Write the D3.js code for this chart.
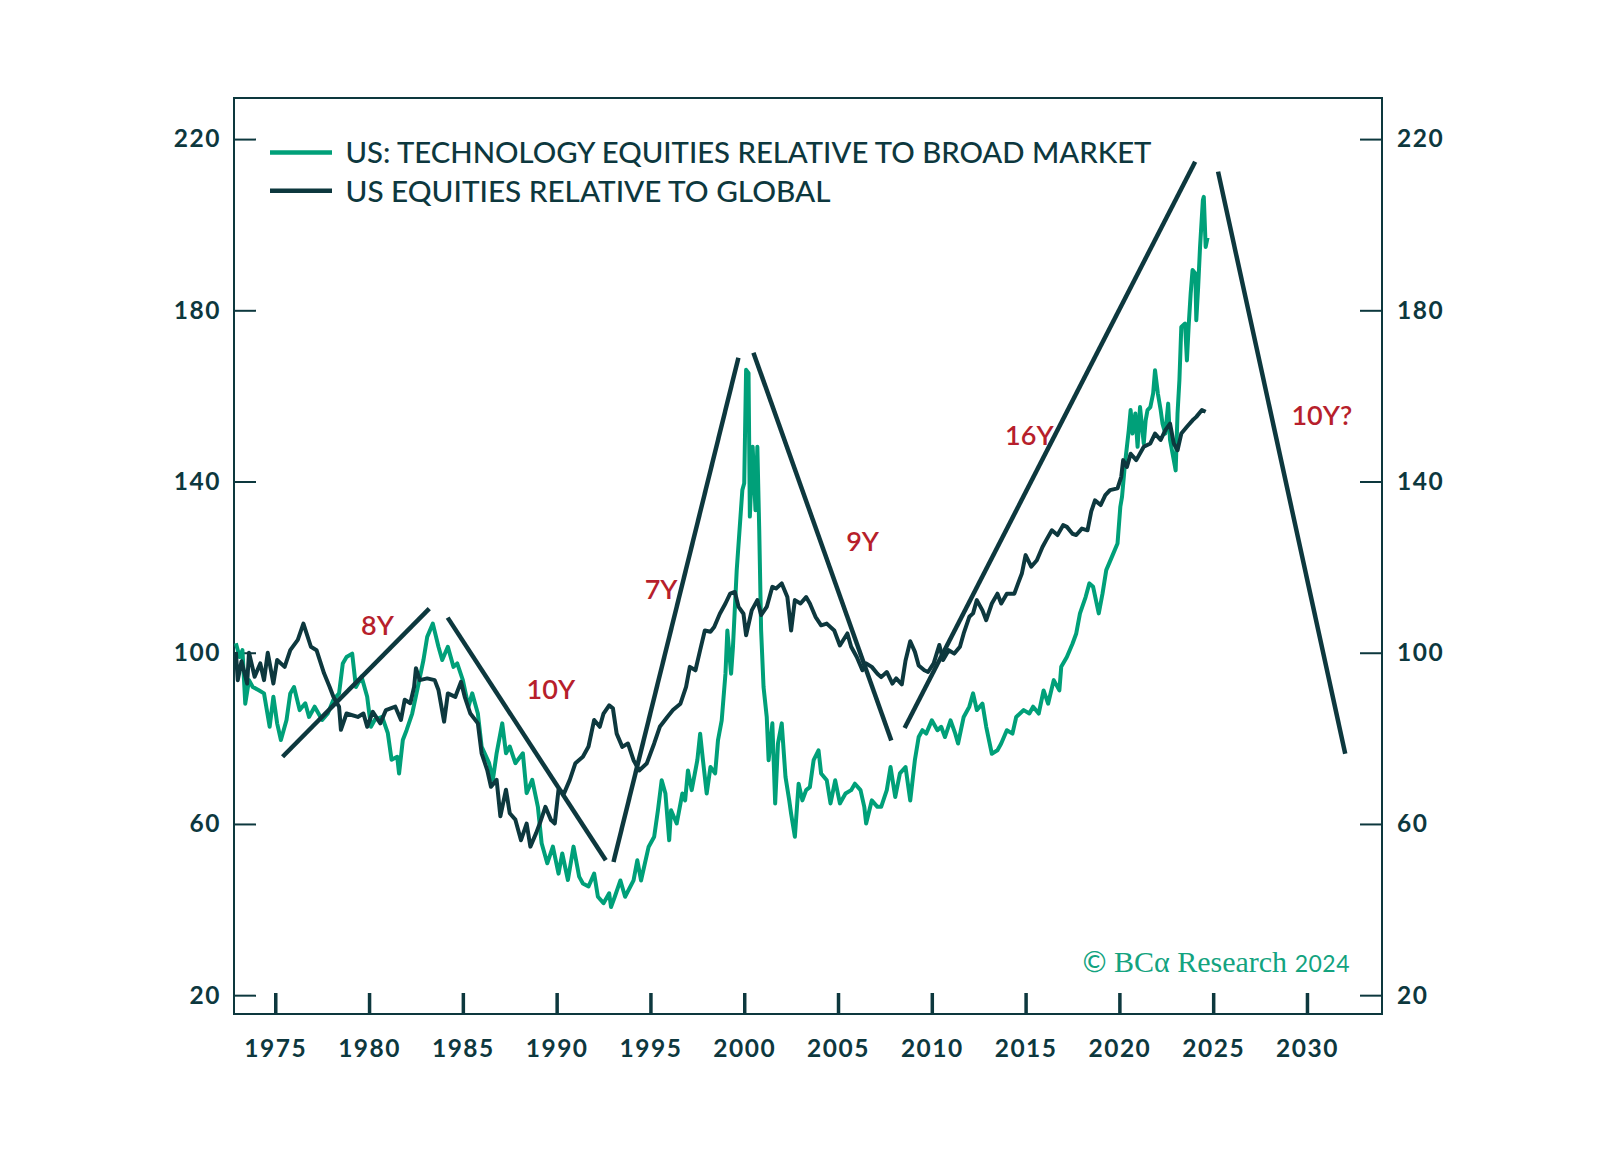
<!DOCTYPE html>
<html><head><meta charset="utf-8">
<script src="https://cdn.jsdelivr.net/npm/d3@7"></script>
<style>body{margin:0;background:#fff}svg{display:block}</style>
</head><body>
<svg id="chart" width="1617" height="1160"></svg>
<script>
// ---------- DATA ----------
const techYears = [1972.9,1973.1,1973.25,1973.4,1973.6,1973.8,1974.1,1974.4,1974.7,1974.9,1975.1,1975.3,1975.6,1975.8,1976.0,1976.3,1976.6,1976.8,1977.1,1977.5,1977.8,1978.1,1978.4,1978.6,1978.8,1979.1,1979.3,1979.6,1979.9,1980.1,1980.3,1980.7,1981.0,1981.2,1981.5,1981.6,1981.8,1982.0,1982.3,1982.6,1982.9,1983.1,1983.4,1983.7,1983.9,1984.2,1984.5,1984.7,1985.0,1985.3,1985.5,1985.8,1986.0,1986.4,1986.6,1986.8,1987.1,1987.3,1987.5,1987.8,1988.2,1988.4,1988.7,1989.0,1989.2,1989.5,1989.8,1990.1,1990.3,1990.6,1990.9,1991.2,1991.4,1991.7,1992.0,1992.2,1992.5,1992.8,1992.9,1993.1,1993.4,1993.65,1994.1,1994.3,1994.5,1994.9,1995.2,1995.4,1995.6,1995.8,1996.0,1996.1,1996.4,1996.7,1996.85,1997.0,1997.2,1997.5,1997.65,1997.8,1998.0,1998.2,1998.45,1998.6,1998.8,1999.0,1999.1,1999.3,1999.4,1999.6,1999.9,2000.0,2000.1,2000.23,2000.3,2000.45,2000.6,2000.7,2000.8,2000.9,2001.03,2001.2,2001.3,2001.5,2001.65,2001.8,2002.0,2002.2,2002.4,2002.5,2002.7,2002.9,2003.1,2003.3,2003.5,2003.7,2003.96,2004.1,2004.4,2004.6,2004.85,2005.1,2005.4,2005.7,2005.9,2006.2,2006.4,2006.5,2006.8,2007.1,2007.3,2007.6,2007.8,2008.05,2008.3,2008.6,2008.85,2009.1,2009.3,2009.5,2009.7,2010.0,2010.3,2010.5,2010.7,2011.0,2011.25,2011.4,2011.7,2012.0,2012.2,2012.4,2012.7,2012.9,2013.2,2013.5,2013.7,2014.0,2014.3,2014.5,2014.9,2015.2,2015.4,2015.7,2015.96,2016.2,2016.5,2016.8,2016.9,2017.2,2017.5,2017.7,2017.9,2018.2,2018.4,2018.6,2018.9,2019.1,2019.3,2019.6,2019.9,2020.05,2020.14,2020.3,2020.5,2020.6,2020.7,2020.85,2020.97,2021.1,2021.3,2021.4,2021.5,2021.65,2021.8,2021.9,2022.05,2022.2,2022.3,2022.45,2022.6,2022.7,2022.9,2023.0,2023.1,2023.2,2023.3,2023.5,2023.6,2023.7,2023.8,2023.9,2024.05,2024.1,2024.2,2024.3,2024.45,2024.5,2024.6,2024.7];
const techValues = [102.2,99,100.6,88.1,93.6,92,91.3,90.5,82.7,89.7,83.5,79.6,84.3,90.5,92,86.6,88.2,85,87.4,84.3,85.8,89,90.5,97.5,99,99.8,92,94.4,89.7,82.7,84.3,85,81.2,75,75.7,71.8,79.6,81.9,85.8,92,98.3,103.7,106.8,101.4,98.3,101.4,96.7,97.5,93.6,87.4,90.5,85.8,78.1,74.2,70.3,76.5,83.5,76.5,78.1,74.2,76.5,67.2,70.3,64,55.5,50.8,54.7,48.4,53.1,46.9,54.7,47.7,46.1,45.4,48.4,43,41.5,43.8,40.6,43,46.8,43,46.8,51.5,46.8,54.6,57,63.2,70.2,67.1,56.2,63.2,60.1,67.1,65.5,72.5,67.9,74.9,81.1,74.9,67.1,73.3,71.8,79.5,84.2,95.1,105.2,95.1,101.4,119.3,138,139.6,166.1,165.3,131.8,148.1,133.3,148.1,128.7,105.3,92,85,74.9,83.5,64.8,78.8,83.5,71,65.5,62.4,57,69.4,65.5,67.9,68.6,74.9,77.2,71.8,70.2,64.8,70.2,64.8,67.1,67.9,69.4,67.9,64,60.1,65.5,64,64,67.9,73.3,66.3,71.8,73.3,65.5,75,80.3,81.9,81.1,84.2,81.9,82.7,80.3,84.2,81.1,78.8,85,87.4,90.5,86.6,88.1,82.7,76.4,77.2,78.8,81.9,81.1,85,86.6,85.8,87.4,85.8,91.2,88.1,93.6,91.2,96.7,99,102.1,104.5,109.2,113,116.2,115.4,109.2,113.8,119.3,122.4,125.5,134.1,136.4,144.2,152,156.7,151.2,155.9,148.1,157.4,148.9,154.3,156.7,157.4,160.6,166,160.6,156.7,153.5,151.2,158.2,149.7,145,142.6,155.9,163.7,176.1,176.9,168.3,176.9,183.9,189.4,188.6,177.7,185.5,194.8,205.7,206.5,194.8,197];

const usYears = [1972.9,1973.0,1973.2,1973.5,1973.6,1973.9,1974.2,1974.4,1974.6,1974.9,1975.1,1975.5,1975.8,1976.2,1976.5,1976.9,1977.2,1977.6,1977.9,1978.1,1978.4,1978.5,1978.8,1979.4,1979.7,1979.9,1980.2,1980.6,1980.9,1981.4,1981.7,1981.9,1982.2,1982.4,1982.5,1982.7,1983.1,1983.5,1983.7,1984.0,1984.2,1984.6,1984.9,1985.1,1985.4,1985.8,1986.0,1986.3,1986.5,1986.8,1987.0,1987.3,1987.5,1987.8,1988.1,1988.4,1988.6,1988.9,1989.1,1989.4,1989.7,1989.9,1990.1,1990.4,1990.7,1991.0,1991.4,1991.7,1992.0,1992.3,1992.5,1992.8,1993.0,1993.2,1993.5,1993.8,1994.1,1994.4,1994.8,1995.2,1995.5,1995.9,1996.2,1996.6,1996.9,1997.1,1997.4,1997.65,1997.9,1998.2,1998.4,1998.7,1999.0,1999.25,1999.5,1999.7,1999.96,2000.1,2000.4,2000.7,2000.9,2001.2,2001.5,2001.7,2002.0,2002.3,2002.5,2002.7,2003.0,2003.3,2003.5,2003.8,2004.1,2004.4,2004.8,2005.1,2005.5,2005.7,2006.0,2006.3,2006.5,2006.8,2007.1,2007.3,2007.6,2007.9,2008.1,2008.4,2008.6,2008.85,2009.1,2009.3,2009.6,2009.8,2010.1,2010.4,2010.6,2010.9,2011.2,2011.5,2011.7,2012.0,2012.2,2012.4,2012.7,2012.9,2013.2,2013.5,2013.7,2014.0,2014.4,2014.6,2014.8,2015.0,2015.3,2015.6,2015.9,2016.1,2016.4,2016.7,2017.0,2017.2,2017.5,2017.7,2018.0,2018.3,2018.5,2018.7,2019.0,2019.25,2019.5,2019.9,2020.1,2020.2,2020.4,2020.6,2020.9,2021.3,2021.65,2021.9,2022.2,2022.45,2022.7,2022.9,2023.1,2023.3,2023.6,2023.9,2024.1,2024.4,2024.6];
const usValues = [100.2,93.6,98,92.8,100,94.4,97.5,93.6,100,92.8,98.3,96.7,100.6,103,106.8,101.4,100.6,95.2,92,89.7,87.4,82,85.8,85,85.8,82.7,86.2,83.5,86.6,87.4,84.3,89,88.2,92,96.4,93.6,94,93.6,91.3,83.9,90.5,89.7,93.2,89.7,85.8,83.5,76.5,72.6,68.7,70.3,61.8,68,62.5,61,56.2,60.1,54.7,57.8,60.1,64,60.9,60.1,68,67.2,70.3,74.2,75.7,78.1,84.3,82.7,85.8,87.7,87,81.1,78,78.8,74.9,72.5,74.1,78.8,82.7,85,86.6,88.1,92,96.7,95.9,100.6,105.2,104.9,106,109.1,111.5,113.8,114.2,110.7,109.1,104.1,109.9,112.3,108.8,110.7,115.4,115,116.2,113,105.2,112.3,111.5,113,111.5,108.4,106.4,106.8,105.2,101.7,104.5,101.4,99,95.9,97.5,96.7,95.1,94.3,95.5,92.8,94,92.6,98.2,102.7,100.2,97,95.9,95.5,97.5,101.8,98.3,100.6,99.8,101.4,104.5,108.4,109.2,112.3,109.9,107.6,111.5,113.8,111.5,113.8,113.8,116.2,118.5,122.8,120.1,121.6,124.7,126.3,128.6,127.5,129.8,129.4,127.8,127.5,129,128.6,133,135.6,134.5,136.8,138,138.4,141.1,145,143.4,146.5,145,148.1,148.9,151.2,149.7,152,153.5,148.9,147.3,151.2,152.8,154.3,155.1,156.7,156.3];

const xTickValues = [1975,1980,1985,1990,1995,2000,2005,2010,2015,2020,2025,2030];
const yTickValues = [20,60,100,140,180,220];

const seriesNames = ["US: TECHNOLOGY EQUITIES RELATIVE TO BROAD MARKET","US EQUITIES RELATIVE TO GLOBAL"];

// cycle trend lines: start year/value, end year/value
const trendStartYears  = [1975.39,1984.19,1993.03,2000.49,2008.55,2025.26];
const trendStartValues = [75.7,108.2,51.1,170.1,82.4,212.4];
const trendEndYears    = [1983.21,1992.62,1999.69,2007.84,2024.04,2032.04];
const trendEndValues   = [110.3,51.5,168.9,79.5,214.7,76.4];

const cycleLabels      = ["8Y","10Y","7Y","9Y","16Y","10Y?"];
const cycleLabelYears  = [1980.45,1989.69,1995.57,2006.31,2015.2,2030.79];
const cycleLabelValues = [106.4,91.5,114.9,126.0,150.8,155.4];

// ---------- STYLE ----------
const GREEN = "#00a079", DARK = "#0d383e", RED = "#b71f2c";
const svg = d3.select("#chart");
const L = 234, R = 1382, T = 98, B = 1014;
const x = d3.scaleLinear().domain([1972.8, 2034]).range([L, R]);
const y = d3.scaleLinear().domain([15.6, 229.6]).range([B, T]);
const tickFont = "Lato, 'DejaVu Sans', sans-serif";

// frame
svg.append("rect").attr("x", L).attr("y", T).attr("width", R - L).attr("height", B - T)
  .attr("fill", "none").attr("stroke", DARK).attr("stroke-width", 2);

function styleAxis(g, w) {
  g.select(".domain").remove();
  g.selectAll(".tick line").attr("stroke", DARK).attr("stroke-width", w);
  g.selectAll(".tick text").attr("fill", DARK).attr("font-family", tickFont)
    .attr("font-weight", 700).attr("font-size", 24.5).attr("letter-spacing", "1.5px");
}
svg.append("g").attr("transform", `translate(${L},0)`)
  .call(d3.axisLeft(y).tickValues(yTickValues).tickSize(-22).tickPadding(13).tickFormat(d3.format("d")))
  .call(g => styleAxis(g, 2));
svg.append("g").attr("transform", `translate(${R},0)`)
  .call(d3.axisRight(y).tickValues(yTickValues).tickSize(-22).tickPadding(15).tickFormat(d3.format("d")))
  .call(g => styleAxis(g, 2));
svg.append("g").attr("transform", `translate(0,${B})`)
  .call(d3.axisBottom(x).tickValues(xTickValues).tickSize(-21).tickPadding(26).tickFormat(d3.format("d")))
  .call(g => styleAxis(g, 3.5));

// series
const line = d3.line().x(d => x(d[0])).y(d => y(d[1]));
const techData = techYears.map((t, i) => [t, techValues[i]]);
const usData = usYears.map((t, i) => [t, usValues[i]]);
svg.append("path").datum(techData).attr("d", line).attr("fill", "none")
  .attr("stroke", GREEN).attr("stroke-width", 4).attr("stroke-linejoin", "round");
svg.append("path").datum(usData).attr("d", line).attr("fill", "none")
  .attr("stroke", DARK).attr("stroke-width", 4).attr("stroke-linejoin", "round");

// trend lines
svg.append("g").selectAll("line").data(trendStartYears).join("line")
  .attr("x1", (d, i) => x(d)).attr("y1", (d, i) => y(trendStartValues[i]))
  .attr("x2", (d, i) => x(trendEndYears[i])).attr("y2", (d, i) => y(trendEndValues[i]))
  .attr("stroke", DARK).attr("stroke-width", 4.5);

// cycle labels
svg.append("g").selectAll("text").data(cycleLabels).join("text")
  .attr("x", (d, i) => x(cycleLabelYears[i])).attr("y", (d, i) => y(cycleLabelValues[i]))
  .attr("text-anchor", "middle").attr("dy", "0.36em")
  .attr("font-family", tickFont).attr("font-weight", 600).attr("font-size", 27)
  .attr("fill", RED).text(d => d);

// legend
const legendColors = [GREEN, DARK];
const legendWidths = [806, 485];
const lg = svg.append("g");
seriesNames.forEach((name, i) => {
  const cy = 152.5 + i * 38.2;
  lg.append("line").attr("x1", 270).attr("x2", 332).attr("y1", cy).attr("y2", cy)
    .attr("stroke", legendColors[i]).attr("stroke-width", 4.5);
  lg.append("text").attr("x", 345.5).attr("y", cy + 10.8)
    .attr("font-family", tickFont).attr("font-weight", 500).attr("font-size", 28.5)
    .attr("fill", DARK).attr("textLength", legendWidths[i]).attr("lengthAdjust", "spacingAndGlyphs")
    .text(name);
});

// watermark
const wm = svg.append("text").attr("x", 1350).attr("y", 972).attr("text-anchor", "end").attr("fill", "#13a37f");
wm.append("tspan").attr("font-family", tickFont).attr("font-size", 29).text("© ");
wm.append("tspan").attr("font-family", "'Liberation Serif', serif").attr("font-size", 30).text("BCα Research ");
wm.append("tspan").attr("font-family", tickFont).attr("font-size", 23).attr("letter-spacing", "0.5px").text("2024");
</script>
</body></html>
